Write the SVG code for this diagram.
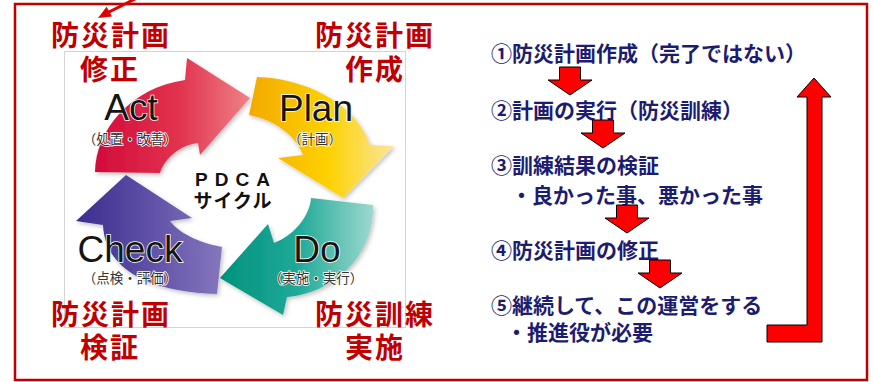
<svg xmlns="http://www.w3.org/2000/svg" xmlns:xlink="http://www.w3.org/1999/xlink" width="873" height="382" viewBox="0 0 873 382">
<style>
.lab{font-family:"Noto Sans CJK JP","Noto Sans",sans-serif;font-weight:700;font-size:28px;fill:#c00000;text-anchor:middle;letter-spacing:2px}
.step{font-family:"Noto Sans CJK JP","Noto Sans",sans-serif;font-weight:700;font-size:21px;fill:#1c1c70}
.big{font-family:"Liberation Sans",Arial,sans-serif;font-size:37px;fill:#151515;text-anchor:middle;stroke:#fff;stroke-width:1.5px;paint-order:stroke}
.sub{font-family:"Noto Sans CJK JP","Noto Sans",sans-serif;font-size:13.5px;fill:#333;text-anchor:middle;stroke:#fff;stroke-width:1.5px;paint-order:stroke}
.ctr{font-family:"Liberation Sans","Noto Sans CJK JP",sans-serif;font-weight:700;fill:#111;text-anchor:middle}
.rarrow{fill:#ff0000;stroke:#000;stroke-width:1}
</style>
<defs>
<linearGradient id="gAct" gradientUnits="userSpaceOnUse" x1="95" y1="0" x2="250" y2="0">
<stop offset="0" stop-color="#d20c3a"/><stop offset="0.55" stop-color="#e2334f"/><stop offset="1" stop-color="#ee8286"/>
</linearGradient>
<linearGradient id="gPlan" gradientUnits="userSpaceOnUse" x1="248" y1="0" x2="395" y2="0">
<stop offset="0" stop-color="#f3a900"/><stop offset="0.55" stop-color="#fdd200"/><stop offset="1" stop-color="#fbe6a0"/>
</linearGradient>
<linearGradient id="gDo" gradientUnits="userSpaceOnUse" x1="220" y1="0" x2="375" y2="0">
<stop offset="0" stop-color="#00927c"/><stop offset="0.5" stop-color="#1fa998"/><stop offset="1" stop-color="#a0dacf"/>
</linearGradient>
<linearGradient id="gCheck" gradientUnits="userSpaceOnUse" x1="76" y1="0" x2="222" y2="0">
<stop offset="0" stop-color="#3a2d8e"/><stop offset="0.5" stop-color="#5f50a6"/><stop offset="1" stop-color="#8576bd"/>
</linearGradient>
<filter id="sh" x="-10%" y="-10%" width="130%" height="130%">
<feDropShadow dx="1.5" dy="2" stdDeviation="2" flood-color="#000" flood-opacity="0.25"/>
</filter>
<path id="dn" d="M-10.5,0 h21 v13 h11.5 l-22,15 l-22,-15 h11.5 z"/>
</defs>

<rect width="873" height="382" fill="#fff"/>
<g id="border"><rect x="15" y="4" width="852" height="376" fill="none" stroke="#c00000" stroke-width="2.5"/></g>

<g id="pdca-image">
<rect x="64.5" y="51.5" width="341" height="276" fill="#fff" stroke="#d4d4d4" stroke-width="1"/>
<g id="act" filter="url(#sh)">
<path d="M95,172 C96,130 130,88 185,80 L187,58 L250,98 L200,155 L198,143 C180,145 165,158 160,173 Z" fill="url(#gAct)"/>
</g>
<g id="plan" filter="url(#sh)">
<path d="M257,77 C300,78 355,100 370,145 L394,146 L343,198 L278,158 L303,155 C295,135 275,120 249,115 Z" fill="url(#gPlan)"/>
</g>
<g id="do" filter="url(#sh)">
<path d="M373,205 C375,250 340,292 287,297 L283,315 L220,278 L268,224 L274,243 C295,235 310,215 311,198 Z" fill="url(#gDo)"/>
</g>
<g id="check" filter="url(#sh)">
<path d="M222,247 C205,244 180,235 170,221 L192,218 L126,175 L76,221 L103,225 C105,270 150,292 217,294 Z" fill="url(#gCheck)"/>
</g>
<text class="big" x="131" y="120">Act</text>
<text class="sub" x="130" y="144">（処置・改善）</text>
<text class="big" x="316" y="121">Plan</text>
<text class="sub" x="315" y="144">（計画）</text>
<text class="big" x="130" y="262">Check</text>
<text class="sub" x="130" y="283">（点検・評価）</text>
<text class="big" x="317" y="262">Do</text>
<text class="sub" x="316" y="283">（実施・実行）</text>
<text class="ctr" x="236" y="186" font-size="19" letter-spacing="7">PDCA</text>
<text class="ctr" x="233" y="208" font-size="19" letter-spacing="1" font-family="Noto Sans CJK JP, sans-serif">サイクル</text>
</g>

<g id="labels">
<text class="lab" x="111" y="46">防災計画</text>
<text class="lab" x="110" y="80">修正</text>
<text class="lab" x="375" y="46">防災計画</text>
<text class="lab" x="375" y="80">作成</text>
<text class="lab" x="111" y="325">防災計画</text>
<text class="lab" x="110" y="358">検証</text>
<text class="lab" x="375" y="325">防災訓練</text>
<text class="lab" x="375" y="358">実施</text>
</g>

<g id="steps">
<text class="step" x="491" y="61">①防災計画作成（完了ではない）</text>
<text class="step" x="491" y="118">②計画の実行（防災訓練）</text>
<text class="step" x="491" y="173">③訓練結果の検証</text>
<text class="step" x="511" y="203">・良かった事、悪かった事</text>
<text class="step" x="491" y="258">④防災計画の修正</text>
<text class="step" x="491" y="313">⑤継続して、この運営をする</text>
<text class="step" x="506" y="340">・推進役が必要</text>
</g>

<g id="connectors">
<line x1="145" y1="-6" x2="105" y2="14" stroke="#e00000" stroke-width="3"/>
<polygon points="98,18 112,16.4 106.6,6.8" fill="#e00000"/>
<use xlink:href="#dn" href="#dn" class="rarrow" x="570" y="67"/>
<use xlink:href="#dn" href="#dn" class="rarrow" x="603" y="120"/>
<use xlink:href="#dn" href="#dn" class="rarrow" x="627" y="205"/>
<use xlink:href="#dn" href="#dn" class="rarrow" x="660" y="260"/>
<polygon class="rarrow" points="814,78 831,97 822,97 822,342 767,342 767,325 807,325 807,97 797,97" stroke-width="1.5"/>
</g>
</svg>
